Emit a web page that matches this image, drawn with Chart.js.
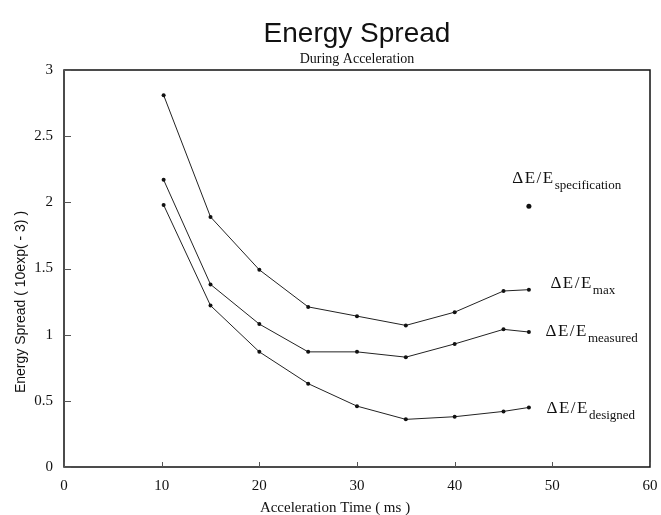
<!DOCTYPE html>
<html>
<head>
<meta charset="utf-8">
<script src="https://cdn.jsdelivr.net/npm/chart.js@4"></script>
<style>
    html, body { margin: 0; padding: 0; background: #fff; }
    #wrap { width: 661px; height: 515px; }
</style>
</head>
<body>
<div id="wrap"><canvas id="myChart"></canvas></div>
<script>
// values

const times = [10.2, 15, 20, 25, 30, 35, 40, 45, 47.6];
const maxSpread = [2.81, 1.89, 1.49, 1.21, 1.14, 1.07, 1.17, 1.33, 1.34];
const measuredSpread = [2.17, 1.38, 1.08, 0.87, 0.87, 0.83, 0.93, 1.04, 1.02];
const designedSpread = [1.98, 1.22, 0.87, 0.63, 0.46, 0.36, 0.38, 0.42, 0.45];
const specTime = [47.6];
const specSpread = [1.97];

const xTicks = [0, 10, 20, 30, 40, 50, 60];
const yTicks = [0, 0.5, 1, 1.5, 2, 2.5, 3];
const seriesSubs = ["max", "measured", "designed", "specification"];

const serif = '"Liberation Serif", "DejaVu Serif", serif';
const sans = '"Liberation Sans", Arial, sans-serif';

function toPoints(xs, ys) {
    return xs.map((x, i) => ({ x: x, y: ys[i] }));
}

function lineSet(label, xs, ys) {
    return {
        label: label,
        data: toPoints(xs, ys),
        borderColor: "#222",
        backgroundColor: "#111",
        borderWidth: 1,
        pointRadius: 2,
        pointBorderWidth: 0,
        showLine: true,
        tension: 0
    };
}

// frame, inward ticks, titles and the delta E labels
const decorations = {
    id: "decorations",
    afterDraw(chart) {
        const ctx = chart.ctx;
        const area = chart.chartArea;
        const xs = chart.scales.x;
        const ys = chart.scales.y;

        ctx.save();
        ctx.strokeStyle = "#111";
        ctx.lineWidth = 1.5;
        ctx.strokeRect(area.left, area.top, area.right - area.left, area.bottom - area.top);

        ctx.lineWidth = 1;
        ctx.strokeStyle = "#555";
        ctx.beginPath();
        yTicks.forEach(v => {
            const p = Math.round(ys.getPixelForValue(v)) + 0.5;
            ctx.moveTo(area.left, p);
            ctx.lineTo(area.left + 7, p);
        });
        xTicks.forEach(v => {
            const p = Math.round(xs.getPixelForValue(v)) + 0.5;
            ctx.moveTo(p, area.bottom);
            ctx.lineTo(p, area.bottom - 5);
        });
        ctx.stroke();

        ctx.fillStyle = "#111";
        ctx.textAlign = "center";
        ctx.textBaseline = "alphabetic";
        ctx.font = "28px " + sans;
        ctx.fillText("Energy Spread", 357, 42);
        ctx.font = "14px " + serif;
        ctx.fillText("During Acceleration", 357, 63);

        ctx.font = "15px " + serif;
        ctx.fillText("Acceleration Time ( ms )", 335, 512);

        ctx.save();
        ctx.translate(25, 302);
        ctx.rotate(-Math.PI / 2);
        ctx.font = "14px " + sans;
        ctx.fillText("Energy Spread ( 10exp( - 3) )", 0, 0);
        ctx.restore();

        // labels beside the series, anchored in data units
        const anchors = [[49.8, 1.353], [49.3, 0.99], [49.4, 0.408], [45.9, 2.146]];
        ctx.textAlign = "left";
        anchors.forEach((a, i) => {
            const px = xs.getPixelForValue(a[0]);
            const py = ys.getPixelForValue(a[1]);
            ctx.font = "17px " + serif;
            ctx.letterSpacing = "1.5px";
            ctx.fillText("\u0394E/E", px, py);
            const w = ctx.measureText("\u0394E/E").width;
            ctx.letterSpacing = "0px";
            ctx.font = "13px " + serif;
            ctx.fillText(seriesSubs[i], px + w, py + 6);
        });
        ctx.restore();
    }
};

const ctx = document.getElementById("myChart").getContext("2d");

const myChart = new Chart(ctx, {
    type: "scatter",
    data: {
        datasets: [
            lineSet("max", times, maxSpread),
            lineSet("measured", times, measuredSpread),
            lineSet("designed", times, designedSpread),
            {
                label: "specification",
                data: toPoints(specTime, specSpread),
                backgroundColor: "#111",
                borderWidth: 0,
                pointRadius: 2.5,
                showLine: false
            }
        ]
    },
    options: {
        responsive: true,
        maintainAspectRatio: false,
        animation: false,
        events: [],
        layout: { padding: { top: 70, right: 11, left: 0, bottom: 0 } },
        plugins: {
            legend: { display: false },
            title: { display: false },
            tooltip: { enabled: false }
        },
        scales: {
            x: {
                type: "linear",
                min: 0,
                max: 60,
                afterFit: scale => {
                    scale.height = 48;
                    scale.paddingLeft = 0;
                    scale.paddingRight = 0;
                },
                afterBuildTicks: scale => { scale.ticks = xTicks.map(v => ({ value: v })); },
                grid: { display: false, drawTicks: false },
                border: { display: false },
                ticks: {
                    padding: 10,
                    color: "#111",
                    font: { family: serif, size: 15 },
                    callback: v => String(v)
                }
            },
            y: {
                type: "linear",
                min: 0,
                max: 3,
                afterFit: scale => {
                    scale.width = 64;
                    scale.paddingTop = 0;
                    scale.paddingBottom = 0;
                },
                afterBuildTicks: scale => { scale.ticks = yTicks.map(v => ({ value: v })); },
                grid: { display: false, drawTicks: false },
                border: { display: false },
                ticks: {
                    padding: 11,
                    color: "#111",
                    font: { family: serif, size: 15 },
                    callback: v => String(v)
                }
            }
        }
    },
    plugins: [decorations]
});
</script>
</body>
</html>
